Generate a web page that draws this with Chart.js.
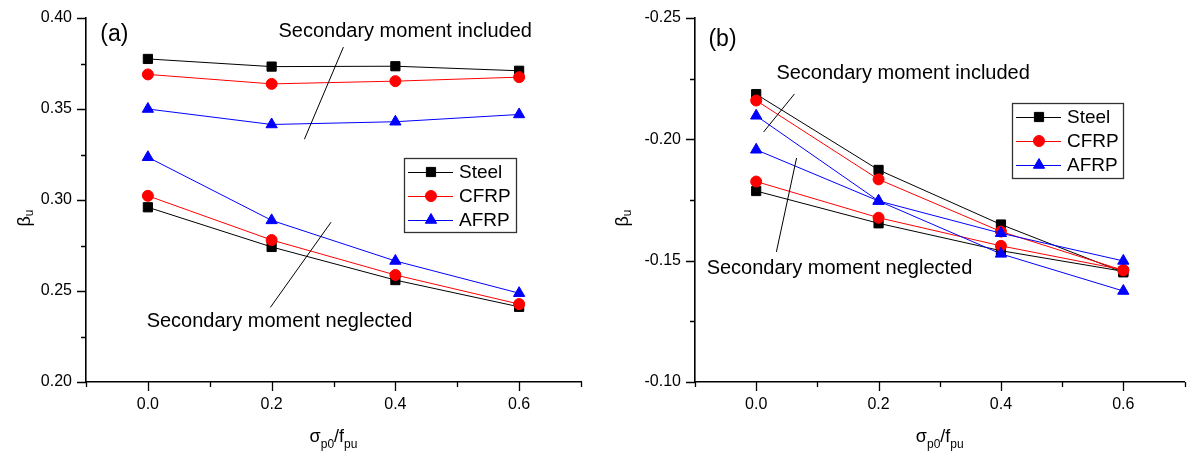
<!DOCTYPE html>
<html>
<head>
<meta charset="utf-8">
<script src="https://cdn.jsdelivr.net/npm/chart.js@4.4.0/dist/chart.umd.min.js"></script>
<style>
  html, body { margin: 0; padding: 0; background: #fff; }
  #wrap { position: relative; width: 1192px; height: 460px; }
  .panel { position: absolute; top: 0; width: 596px; height: 460px; }
</style>
</head>
<body>
<div id="wrap">
  <div class="panel" style="left:0"><canvas id="chartA"></canvas></div>
  <div class="panel" style="left:596px"><canvas id="chartB"></canvas></div>
</div>
<script>
const FONT = "'Liberation Sans', Arial, sans-serif";

// x values (sigma_p0 / f_pu)
const stress = [0, 0.2, 0.4, 0.6];
const materials = ['Steel', 'CFRP', 'AFRP'];
const colors = ['#000000', '#ff0000', '#0000ff'];
const markers = ['rect', 'circle', 'triangle'];
const markerSize = [6.5, 5.5, 6.5];

// panel (a)
const aSteelInc = [0.3775, 0.3733, 0.3735, 0.3710];
const aCfrpInc  = [0.3690, 0.3638, 0.3653, 0.3675];
const aAfrpInc  = [0.3500, 0.3415, 0.3430, 0.3470];
const aSteelNeg = [0.2960, 0.2742, 0.2560, 0.2413];
const aCfrpNeg  = [0.3023, 0.2780, 0.2588, 0.2428];
const aAfrpNeg  = [0.3235, 0.2888, 0.2665, 0.2488];

// panel (b)
const bSteelInc = [-0.2186, -0.1874, -0.1649, -0.1452];
const bCfrpInc  = [-0.2160, -0.1835, -0.1620, -0.1460];
const bAfrpInc  = [-0.2097, -0.1746, -0.1528, -0.1375];
const bSteelNeg = [-0.1787, -0.1654, -0.1541, -0.1456];
const bCfrpNeg  = [-0.1826, -0.1677, -0.1561, -0.1462];
const bAfrpNeg  = [-0.1957, -0.1746, -0.1613, -0.1499];

// ticks
const xTicks = [-0.1, 0, 0.1, 0.2, 0.3, 0.4, 0.5, 0.6, 0.7];
const xMajor = [0, 0.2, 0.4, 0.6];
const aYTicks = [0.2, 0.225, 0.25, 0.275, 0.3, 0.325, 0.35, 0.375, 0.4];
const aYMajor = [0.2, 0.25, 0.3, 0.35, 0.4];
const bYTicks = [-0.25, -0.225, -0.2, -0.175, -0.15, -0.125, -0.1];
const bYMajor = [-0.25, -0.2, -0.15, -0.1];

const isMajor = (v, list) => list.some(m => Math.abs(m - v) < 1e-9);

function series(i, values, inLegend) {
    return {
        label: materials[i],
        data: stress.map((x, k) => ({ x: x, y: values[k] })),
        borderColor: colors[i],
        backgroundColor: colors[i],
        borderWidth: 1,
        pointStyle: markers[i],
        pointRadius: markerSize[i],
        pointHoverRadius: markerSize[i],
        pointBorderWidth: 1,
        pointBorderColor: colors[i],
        pointBackgroundColor: colors[i],
        order: 3 - i,
        inLegend: inLegend
    };
}

// ticks of two lengths, axis titles, notes and the boxed legend
const decor = {
    id: 'decor',
    afterDraw(chart, args, o) {
        const ctx = chart.ctx;
        const xs = chart.scales.x, ys = chart.scales.y;
        ctx.save();
        ctx.strokeStyle = '#000';
        ctx.lineWidth = 1.3;
        ctx.beginPath();
        xs.ticks.forEach(t => {
            const px = Math.round(xs.getPixelForValue(t.value)) + 0.5;
            const len = isMajor(t.value, xMajor) ? 9 : 5;
            ctx.moveTo(px, xs.top); ctx.lineTo(px, xs.top + len);
        });
        ys.ticks.forEach(t => {
            const py = Math.round(ys.getPixelForValue(t.value)) + 0.5;
            const len = isMajor(t.value, o.yMajor) ? 9 : 5;
            ctx.moveTo(ys.right, py); ctx.lineTo(ys.right - len, py);
        });
        ctx.stroke();

        ctx.fillStyle = '#000';
        ctx.textAlign = 'left';
        ctx.textBaseline = 'alphabetic';

        // x title: sigma_p0 / f_pu
        const parts = [['σ', false], ['p0', true], ['/f', false], ['pu', true]];
        const fMain = '18px ' + FONT, fSub = '12px ' + FONT;
        let w = 0;
        parts.forEach(p => { ctx.font = p[1] ? fSub : fMain; w += ctx.measureText(p[0]).width; });
        let cx = (xs.left + xs.right) / 2 - w / 2;
        parts.forEach(p => {
            ctx.font = p[1] ? fSub : fMain;
            ctx.fillText(p[0], cx, p[1] ? 448 : 442);
            cx += ctx.measureText(p[0]).width;
        });

        // y title: beta_u
        ctx.save();
        ctx.translate(o.yTitleX, 218);
        ctx.rotate(-Math.PI / 2);
        ctx.font = fMain;
        const bw = ctx.measureText('β').width;
        ctx.font = fSub;
        const uw = ctx.measureText('u').width;
        let sx = -(bw + uw) / 2;
        ctx.font = fMain; ctx.fillText('β', sx, 0);
        ctx.font = fSub; ctx.fillText('u', sx + bw, 3);
        ctx.restore();

        // notes
        (o.notes || []).forEach(n => {
            if (n.text) {
                ctx.font = n.size + 'px ' + FONT;
                ctx.textBaseline = 'middle';
                ctx.fillText(n.text, xs.getPixelForValue(n.x), ys.getPixelForValue(n.y));
            } else {
                ctx.lineWidth = 1;
                ctx.beginPath();
                ctx.moveTo(xs.getPixelForValue(n.x1), ys.getPixelForValue(n.y1));
                ctx.lineTo(xs.getPixelForValue(n.x2), ys.getPixelForValue(n.y2));
                ctx.stroke();
            }
        });

        // legend
        const L = o.legend;
        ctx.lineWidth = 1.3;
        ctx.strokeStyle = '#333';
        ctx.strokeRect(L.left + 0.5, L.top + 0.5, L.width, L.height);
        ctx.font = '19px ' + FONT;
        ctx.textBaseline = 'middle';
        chart.data.datasets.filter(d => d.inLegend).forEach((d, k) => {
            const y = L.top + 14 + k * 24;
            ctx.strokeStyle = d.borderColor;
            ctx.lineWidth = 1;
            ctx.beginPath();
            ctx.moveTo(L.left + 4, y + 0.5); ctx.lineTo(L.left + 49, y + 0.5);
            ctx.stroke();
            ctx.fillStyle = d.backgroundColor;
            Chart.helpers.drawPoint(ctx, { pointStyle: d.pointStyle, radius: d.pointRadius, rotation: 0, borderWidth: 1 }, L.left + 27, y);
            ctx.fillStyle = '#000';
            ctx.fillText(d.label, L.left + 55, y + 1);
        });
        ctx.restore();
    }
};

function makeChart(id, sets, yTicks, yMajor, reverse, yWidth, rightPad, opts) {
    return new Chart(document.getElementById(id), {
        type: 'line',
        data: { datasets: sets },
        options: {
            responsive: true,
            maintainAspectRatio: false,
            animation: false,
            devicePixelRatio: 1,
            layout: { padding: { left: 0, right: rightPad, top: 18, bottom: 0 } },
            plugins: { legend: { display: false }, tooltip: { enabled: false }, decor: opts },
            scales: {
                x: {
                    type: 'linear', min: -0.1, max: 0.7,
                    afterBuildTicks: s => { s.ticks = xTicks.map(v => ({ value: v })); },
                    afterFit: s => { s.height = 78; },
                    ticks: {
                        autoSkip: false, maxRotation: 0, padding: 4, color: '#000',
                        font: { size: 16, family: FONT },
                        callback: v => isMajor(v, xMajor) ? v.toFixed(1) : ''
                    },
                    grid: { display: true, drawOnChartArea: false, drawTicks: true, tickLength: 9, tickColor: 'rgba(0,0,0,0)' },
                    border: { display: true, color: '#000', width: 1.6 }
                },
                y: {
                    type: 'linear', min: yTicks[0], max: yTicks[yTicks.length - 1], reverse: reverse,
                    afterBuildTicks: s => { s.ticks = yTicks.map(v => ({ value: v })); },
                    afterFit: s => { s.width = yWidth; },
                    ticks: {
                        autoSkip: false, padding: 5, color: '#000',
                        font: { size: 16, family: FONT },
                        callback: v => isMajor(v, yMajor) ? v.toFixed(2) : ''
                    },
                    grid: { display: true, drawOnChartArea: false, drawTicks: true, tickLength: 9, tickColor: 'rgba(0,0,0,0)' },
                    border: { display: true, color: '#000', width: 1.6 }
                }
            }
        },
        plugins: [decor]
    });
}

makeChart('chartA',
    [series(0, aSteelInc, true), series(1, aCfrpInc, true), series(2, aAfrpInc, true),
     series(0, aSteelNeg, false), series(1, aCfrpNeg, false), series(2, aAfrpNeg, false)],
    aYTicks, aYMajor, false, 86, 15,
    {
        yMajor: aYMajor, yTitleX: 30,
        legend: { left: 404, top: 158, width: 112, height: 74 },
        notes: [
            { text: '(a)', size: 23, x: -0.077, y: 0.3906 },
            { text: 'Secondary moment included', size: 20, x: 0.211, y: 0.3928 },
            { x1: 0.316, y1: 0.384, x2: 0.253, y2: 0.3334 },
            { text: 'Secondary moment neglected', size: 20, x: -0.002, y: 0.2333 },
            { x1: 0.296, y1: 0.2878, x2: 0.198, y2: 0.241 }
        ]
    });

makeChart('chartB',
    [series(0, bSteelInc, true), series(1, bCfrpInc, true), series(2, bAfrpInc, true),
     series(0, bSteelNeg, false), series(1, bCfrpNeg, false), series(2, bAfrpNeg, false)],
    bYTicks, bYMajor, true, 99, 6,
    {
        yMajor: bYMajor, yTitleX: 32,
        legend: { left: 416, top: 103, width: 111, height: 75 },
        notes: [
            { text: '(b)', size: 23, x: -0.078, y: -0.2409 },
            { text: 'Secondary moment included', size: 20, x: 0.033, y: -0.2273 },
            { x1: 0.0625, y1: -0.2187, x2: 0.012, y2: -0.2030 },
            { text: 'Secondary moment neglected', size: 20, x: -0.081, y: -0.1466 },
            { x1: 0.066, y1: -0.1923, x2: 0.033, y2: -0.1536 }
        ]
    });
</script>
</body>
</html>
